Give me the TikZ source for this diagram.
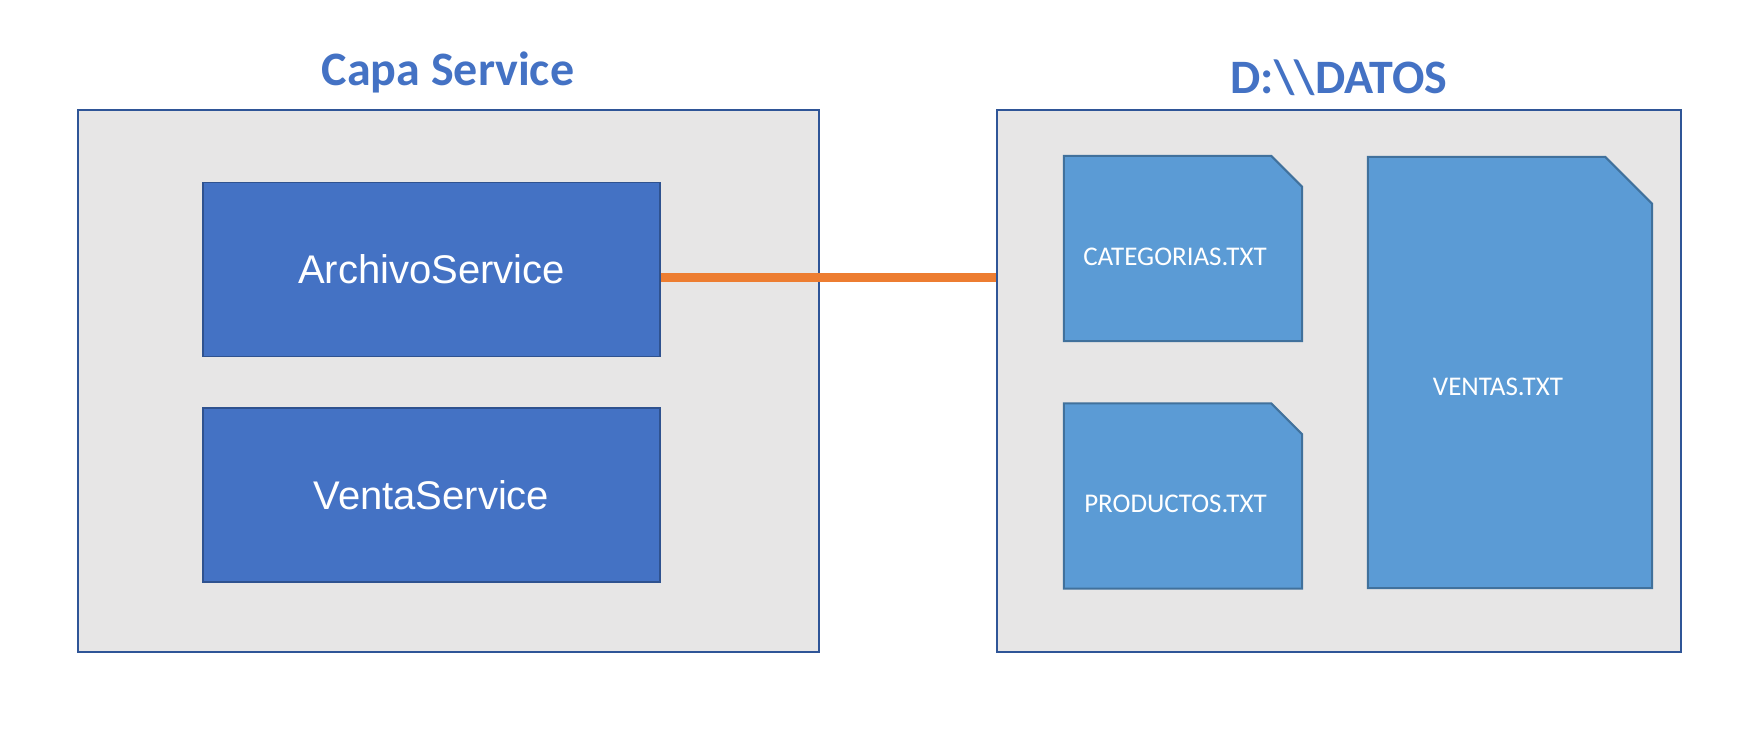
\documentclass[tikz,border=0pt]{standalone}
\usepackage{fontspec}
\setmainfont{Carlito}
\newfontfamily\arialfont{Liberation Sans}
\usetikzlibrary{positioning}
\definecolor{capafill}{HTML}{E7E6E6}
\definecolor{capaborde}{HTML}{2F5597}
\definecolor{servfill}{HTML}{4472C4}
\definecolor{servborde}{HTML}{2F528F}
\definecolor{hojafill}{HTML}{5B9BD5}
\definecolor{hojaborde}{HTML}{41719C}
\definecolor{enlacenaranja}{HTML}{ED7D31}
\definecolor{tituloazul}{HTML}{4472C4}

\begin{document}
\begin{tikzpicture}[x=1pt, y=-1pt,
    capa/.style={draw=capaborde, line width=2pt, fill=capafill, inner sep=0pt},
    servicio/.style={draw=servborde, line width=1.5pt, fill=servfill, inner sep=0pt,
        minimum width=457pt, minimum height=174pt, text=white,
        font=\arialfont\fontsize{40}{48}\selectfont},
    archivo/.style={inner sep=0pt, minimum width=238pt, minimum height=185pt},
    hoja/.style={draw=hojaborde, line width=2pt, fill=hojafill},
    rotulo/.style={text=white, font=\fontsize{27}{32}\selectfont},
    titulo/.style={text=tituloazul, font=\bfseries\fontsize{48}{56}\selectfont},
    enlace/.style={draw=enlacenaranja, line width=9pt}
]
\fill[white] (0,0) rectangle (1757,742);
\useasboundingbox (0,0) rectangle (1757,742);

% === Capa Service ===
\node[capa, minimum width=741pt, minimum height=542pt] (service) at (448.7,381) {};
\node[titulo] (tservice) at (448,72.5) {Capa Service};
\node[servicio] (arch) at (431.4,269.5) {ArchivoService};
\node[servicio] (venta) at (431.4,495) {VentaService};

% === D:\\DATOS ===
\node[capa, minimum width=684pt, minimum height=542pt] (datos) at (1339,381) {};
\node[titulo] (tdatos) at (1339,77.5) {D:\textbackslash\textbackslash DATOS};

\node[archivo] (cat) at (1183,248.5) {};
\node[archivo] (prod) at (1183,496) {};
\node[archivo, minimum width=284pt, minimum height=431pt] (vent) at (1510,372.5) {};

\draw[hoja] (cat.north west) -- ([xshift=-31pt]cat.north east)
    -- ([yshift=-31pt]cat.north east) -- (cat.south east) -- (cat.south west) -- cycle;
\draw[hoja] (prod.north west) -- ([xshift=-31pt]prod.north east)
    -- ([yshift=-31pt]prod.north east) -- (prod.south east) -- (prod.south west) -- cycle;
\draw[hoja] (vent.north west) -- ([xshift=-47pt]vent.north east)
    -- ([yshift=-47pt]vent.north east) -- (vent.south east) -- (vent.south west) -- cycle;

\node[rotulo] (lcat) at (1175,257) {CATEGORIAS.TXT};
\node[rotulo] (lprod) at (1175.5,504) {PRODUCTOS.TXT};
\node[rotulo] (lvent) at (1498,386.6) {VENTAS.TXT};

% === Enlace ===
\coordinate (salida) at ([yshift=-7.5pt]arch.east);
\draw[enlace] (salida) -- (salida -| datos.west);
\end{tikzpicture}
\end{document}
